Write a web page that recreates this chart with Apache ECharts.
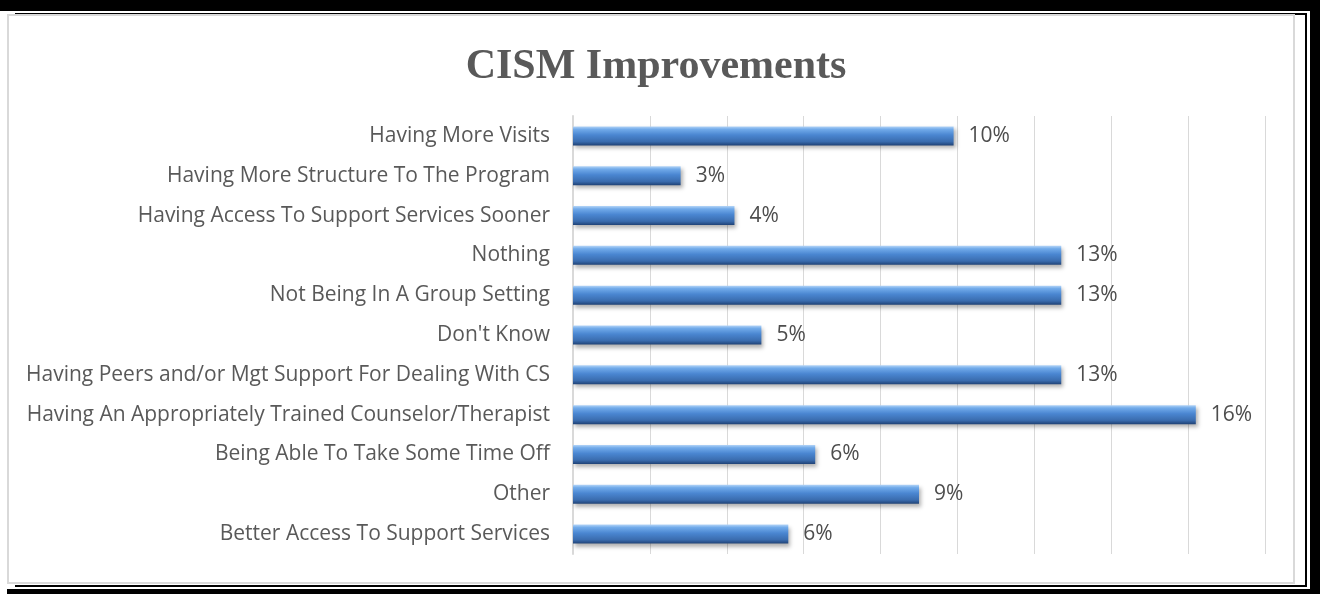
<!DOCTYPE html>
<html>
<head>
<meta charset="utf-8">
<title>CISM Improvements</title>
<script src="https://cdn.jsdelivr.net/npm/echarts@6/dist/echarts.min.js"></script>
<style>
  html, body {
    margin: 0;
    padding: 0;
    background: #fff;
  }
  .page {
    position: relative;
    width: 1320px;
    height: 594px;
    overflow: hidden;
  }
  /* word-style thick/thin frame round the chart */
  .frame {
    position: absolute;
    background: #000;
  }
  .chart-border {
    position: absolute;
    left: 7px;
    top: 14px;
    width: 1284px;
    height: 566px;
    border: 2px solid #d9d9d9;
  }
  #chart {
    position: absolute;
    left: 0;
    top: 0;
    width: 1320px;
    height: 594px;
  }
</style>
</head>
<body>
<div class="page">
  <div class="frame" style="left:0;top:0;width:1320px;height:11px"></div>
  <div class="frame" style="left:1310px;top:0;width:10px;height:594px"></div>
  <div class="frame" style="left:7px;top:589px;width:1313px;height:5px"></div>
  <div class="frame" style="left:15px;top:13px;width:1292px;height:2px"></div>
  <div class="frame" style="left:1305px;top:13px;width:2px;height:574px"></div>
  <div class="frame" style="left:15px;top:585px;width:1292px;height:2px"></div>
  <div class="chart-border"></div>
  <div id="chart"></div>
</div>

<script>
// categories, top to bottom as in the picture
const categories = [
  'Having More Visits',
  'Having More Structure To The Program',
  'Having Access To Support Services Sooner',
  'Nothing',
  'Not Being In A Group Setting',
  "Don't Know",
  'Having Peers and/or Mgt Support For Dealing With CS',
  'Having An Appropriately Trained Counselor/Therapist',
  'Being Able To Take Some Time Off',
  'Other',
  'Better Access To Support Services'
]

// share of answers, in percent
const shares = [9.9, 2.8, 4.2, 12.7, 12.7, 4.9, 12.7, 16.2, 6.3, 9.0, 5.6]

// value axis: 0..18 % in steps of 2, labels hidden
const axisMin = 0
const axisMax = 18
const axisStep = 2

const chart = echarts.init(document.getElementById('chart'))

const barColor = new echarts.graphic.LinearGradient(0, 0, 0, 1, [
  { offset: 0, color: '#b3d4f7' },
  { offset: 0.15, color: '#72abea' },
  { offset: 0.45, color: '#4a86d1' },
  { offset: 0.8, color: '#3a6cae' },
  { offset: 1, color: '#1f4276' }
])

const option = {
  backgroundColor: 'transparent',
  animation: false,
  title: {
    text: 'CISM Improvements',
    left: 651,
    textAlign: 'center',
    top: 41,
    textStyle: {
      fontFamily: 'Liberation Serif',
      fontWeight: 'bold',
      fontSize: 42,
      color: '#595959'
    }
  },
  grid: {
    left: 573,
    right: 55,
    top: 116,
    bottom: 40,
    containLabel: false
  },
  xAxis: {
    type: 'value',
    min: axisMin,
    max: axisMax,
    interval: axisStep,
    axisLabel: { show: false },
    axisLine: { show: false },
    axisTick: { show: false },
    splitLine: {
      lineStyle: { color: '#d9d9d9', width: 1 }
    }
  },
  yAxis: {
    type: 'category',
    inverse: true,
    data: categories,
    axisTick: { show: false },
    axisLine: {
      lineStyle: { color: '#d9d9d9', width: 2 }
    },
    axisLabel: {
      margin: 23,
      fontFamily: 'Open Sans',
      fontSize: 21,
      color: '#595959'
    }
  },
  series: [
    {
      type: 'bar',
      data: shares,
      barWidth: 19,
      itemStyle: {
        color: barColor,
        shadowColor: 'rgba(0, 0, 0, 0.3)',
        shadowBlur: 4,
        shadowOffsetX: 2,
        shadowOffsetY: 3
      },
      label: {
        show: true,
        position: 'right',
        distance: 15,
        fontFamily: 'Open Sans',
        fontSize: 21,
        color: '#4d4d4d',
        formatter: p => Math.round(p.value) + '%'
      }
    }
  ]
}

chart.setOption(option)
</script>
</body>
</html>
